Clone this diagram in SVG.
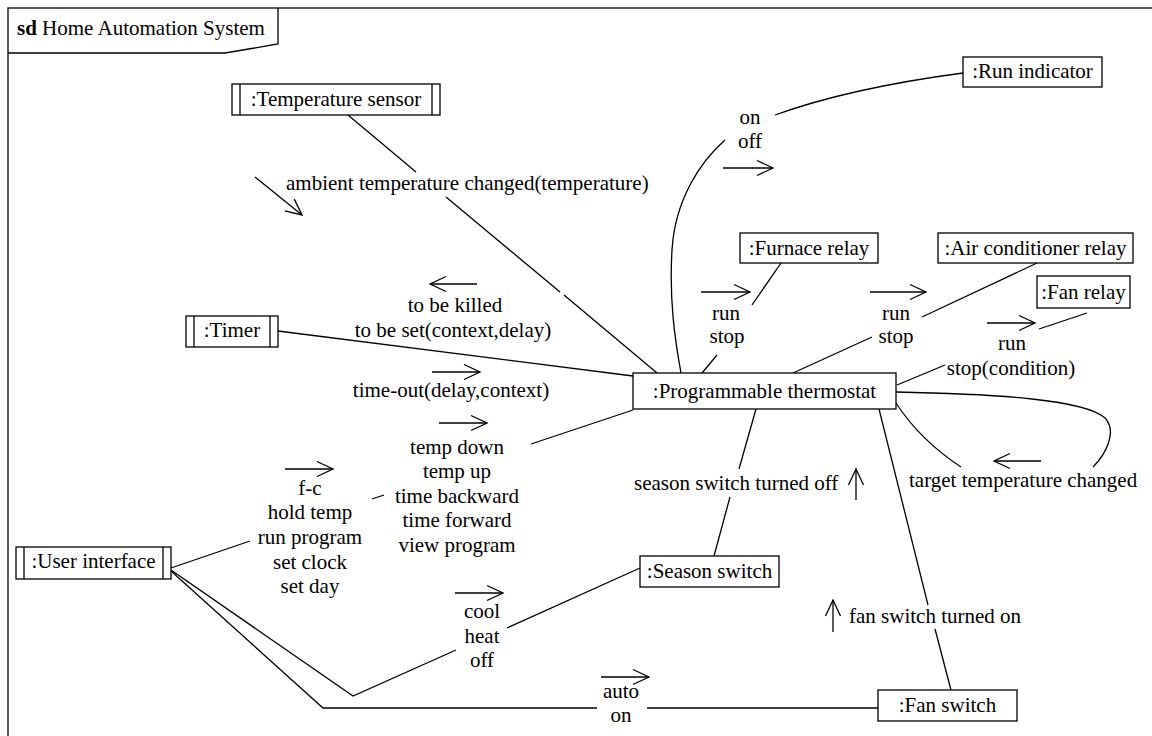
<svg xmlns="http://www.w3.org/2000/svg" xmlns:xlink="http://www.w3.org/1999/xlink" width="1152" height="736" viewBox="0 0 1152 736" font-size="21">
  <style>
    .box { fill: #fff; stroke: #000; stroke-width: 1.3; }
    .bar { stroke: #000; stroke-width: 1.3; }
    .ln { fill: none; stroke: #000; stroke-width: 1.3; }
  </style>
  <defs>
    <!-- open arrowhead, tip at the origin, pointing along +x -->
    <path id="head" d="M-16,-7.5 L0,0 L-16,7.5" fill="none" stroke="#000" stroke-width="1.3"/>
  </defs>

  <rect width="1152" height="736" fill="#fff"/>

  <!-- diagram frame, title tab -->
  <g id="frame">
    <rect x="8" y="8" width="1170" height="760" fill="none" stroke="#000" stroke-width="1.3"/>
    <path d="M8,53 L225,53 L278,44 L278,8" fill="none" stroke="#000" stroke-width="1.3"/>
    <text font-family="Liberation Serif" x="17" y="35"><tspan font-weight="bold">sd</tspan> Home Automation System</text>
  </g>

  <!-- links between lifelines -->
  <g id="connectors">
    <path class="ln" d="M348,115 L416,172 M446,197 L560,292 M564,295 L657,373"/>
    <path class="ln" d="M963,73 Q850,88 775,115"/>
    <path class="ln" d="M725,140 C700,162 675,200 672,250 S675,340 681,373"/>
    <path class="ln" d="M781,263 L752,305 M717,355 L702,373"/>
    <path class="ln" d="M1037,263 L922,317 M872,337 L793,373"/>
    <path class="ln" d="M1087,313 L1039,329 M945,365 L897,385"/>
    <path class="ln" d="M278,331 L633,376"/>
    <path class="ln" d="M896,392 C1000,394 1085,400 1105,418 C1118,432 1105,455 1093,467"/>
    <path class="ln" d="M961,467 Q920,440 896,403"/>
    <path class="ln" d="M756,409 L739,469 M730,497 L714,556"/>
    <path class="ln" d="M879,409 L928,605 M935,629 L951,690"/>
    <path class="ln" d="M171,568 L250,541 M372,499 L384,495 M531,444 L633,410"/>
    <path class="ln" d="M171,570 L353,696 L456,650 M507,628 L640,568"/>
    <path class="ln" d="M171,571 L323,708 L597,708 M647,708 L878,708"/>
  </g>

  <!-- message direction arrows -->
  <g id="messages">
    <path class="ln" d="M255,177 L302,215"/>
    <use xlink:href="#head" href="#head" transform="translate(302,215) rotate(38.96)"/>
    <path class="ln" d="M723,168 L773,168"/>
    <use xlink:href="#head" href="#head" transform="translate(773,168)"/>
    <path class="ln" d="M701,292 L750,292"/>
    <use xlink:href="#head" href="#head" transform="translate(750,292)"/>
    <path class="ln" d="M870,292 L926,292"/>
    <use xlink:href="#head" href="#head" transform="translate(926,292)"/>
    <path class="ln" d="M987,323 L1035,323"/>
    <use xlink:href="#head" href="#head" transform="translate(1035,323)"/>
    <path class="ln" d="M477,284 L430,284"/>
    <use xlink:href="#head" href="#head" transform="translate(430,284) rotate(180)"/>
    <path class="ln" d="M432,372 L480,372"/>
    <use xlink:href="#head" href="#head" transform="translate(480,372)"/>
    <path class="ln" d="M439,423 L487,423"/>
    <use xlink:href="#head" href="#head" transform="translate(487,423)"/>
    <path class="ln" d="M285,469 L333,469"/>
    <use xlink:href="#head" href="#head" transform="translate(333,469)"/>
    <path class="ln" d="M455,593 L503,593"/>
    <use xlink:href="#head" href="#head" transform="translate(503,593)"/>
    <path class="ln" d="M601,677 L649,677"/>
    <use xlink:href="#head" href="#head" transform="translate(649,677)"/>
    <path class="ln" d="M856,500 L856,469"/>
    <use xlink:href="#head" href="#head" transform="translate(856,469) rotate(-90)"/>
    <path class="ln" d="M833,632 L833,600"/>
    <use xlink:href="#head" href="#head" transform="translate(833,600) rotate(-90)"/>
    <path class="ln" d="M1041,461 L994,461"/>
    <use xlink:href="#head" href="#head" transform="translate(994,461) rotate(180)"/>
  </g>

  <!-- message labels -->
  <g id="labels" font-family="Liberation Serif">
    <text font-family="Liberation Serif" x="286" y="190">ambient temperature changed(temperature)</text>
    <text font-family="Liberation Serif" text-anchor="middle" x="750" y="124">on</text>
    <text font-family="Liberation Serif" text-anchor="middle" x="750" y="148">off</text>
    <text font-family="Liberation Serif" text-anchor="middle" x="726" y="320">run</text>
    <text font-family="Liberation Serif" text-anchor="middle" x="727" y="343">stop</text>
    <text font-family="Liberation Serif" text-anchor="middle" x="896" y="320">run</text>
    <text font-family="Liberation Serif" text-anchor="middle" x="896" y="343">stop</text>
    <text font-family="Liberation Serif" text-anchor="middle" x="1012" y="350">run</text>
    <text font-family="Liberation Serif" text-anchor="middle" x="1011" y="375">stop(condition)</text>
    <text font-family="Liberation Serif" text-anchor="middle" x="455" y="312">to be killed</text>
    <text font-family="Liberation Serif" text-anchor="middle" x="453" y="337">to be set(context,delay)</text>
    <text font-family="Liberation Serif" text-anchor="middle" x="451" y="397">time-out(delay,context)</text>
    <text font-family="Liberation Serif" text-anchor="middle" x="457" y="454">temp down</text>
    <text font-family="Liberation Serif" text-anchor="middle" x="457" y="478">temp up</text>
    <text font-family="Liberation Serif" text-anchor="middle" x="457" y="503">time backward</text>
    <text font-family="Liberation Serif" text-anchor="middle" x="457" y="527">time forward</text>
    <text font-family="Liberation Serif" text-anchor="middle" x="457" y="552">view program</text>
    <text font-family="Liberation Serif" text-anchor="middle" x="310" y="495">f-c</text>
    <text font-family="Liberation Serif" text-anchor="middle" x="310" y="519">hold temp</text>
    <text font-family="Liberation Serif" text-anchor="middle" x="310" y="544">run program</text>
    <text font-family="Liberation Serif" text-anchor="middle" x="310" y="569">set clock</text>
    <text font-family="Liberation Serif" text-anchor="middle" x="310" y="593">set day</text>
    <text font-family="Liberation Serif" text-anchor="middle" x="482" y="618">cool</text>
    <text font-family="Liberation Serif" text-anchor="middle" x="482" y="643">heat</text>
    <text font-family="Liberation Serif" text-anchor="middle" x="482" y="667">off</text>
    <text font-family="Liberation Serif" text-anchor="middle" x="621" y="698">auto</text>
    <text font-family="Liberation Serif" text-anchor="middle" x="621" y="722">on</text>
    <text font-family="Liberation Serif" x="634" y="490">season switch turned off</text>
    <text font-family="Liberation Serif" x="849" y="623">fan switch turned on</text>
    <text font-family="Liberation Serif" x="909" y="487">target temperature changed</text>
  </g>

  <!-- lifelines -->
  <g id="temperature-sensor">
    <rect class="box" x="232" y="84" width="208" height="31"/>
    <line class="bar" x1="240" y1="84" x2="240" y2="115"/>
    <line class="bar" x1="432" y1="84" x2="432" y2="115"/>
    <text font-family="Liberation Serif" text-anchor="middle" x="336" y="106">:Temperature sensor</text>
  </g>
  <g id="run-indicator">
    <rect class="box" x="963" y="57" width="139" height="30"/>
    <text font-family="Liberation Serif" text-anchor="middle" x="1032.5" y="78">:Run indicator</text>
  </g>
  <g id="furnace-relay">
    <rect class="box" x="740" y="233" width="138" height="30"/>
    <text font-family="Liberation Serif" text-anchor="middle" x="809" y="255">:Furnace relay</text>
  </g>
  <g id="air-conditioner-relay">
    <rect class="box" x="938" y="233" width="195" height="30"/>
    <text font-family="Liberation Serif" text-anchor="middle" x="1035.5" y="255">:Air conditioner relay</text>
  </g>
  <g id="fan-relay">
    <rect class="box" x="1037" y="276" width="93" height="32"/>
    <text font-family="Liberation Serif" text-anchor="middle" x="1083.5" y="299">:Fan relay</text>
  </g>
  <g id="timer">
    <rect class="box" x="186" y="316" width="92" height="31"/>
    <line class="bar" x1="194" y1="316" x2="194" y2="347"/>
    <line class="bar" x1="270" y1="316" x2="270" y2="347"/>
    <text font-family="Liberation Serif" text-anchor="middle" x="232" y="337">:Timer</text>
  </g>
  <g id="programmable-thermostat">
    <rect class="box" x="633" y="373" width="263" height="36"/>
    <text font-family="Liberation Serif" text-anchor="middle" x="764.5" y="398">:Programmable thermostat</text>
  </g>
  <g id="user-interface">
    <rect class="box" x="16" y="547" width="155" height="32"/>
    <line class="bar" x1="24" y1="547" x2="24" y2="579"/>
    <line class="bar" x1="163" y1="547" x2="163" y2="579"/>
    <text font-family="Liberation Serif" text-anchor="middle" x="93.5" y="568">:User interface</text>
  </g>
  <g id="season-switch">
    <rect class="box" x="640" y="556" width="139" height="31"/>
    <text font-family="Liberation Serif" text-anchor="middle" x="709.5" y="578">:Season switch</text>
  </g>
  <g id="fan-switch">
    <rect class="box" x="878" y="690" width="139" height="31"/>
    <text font-family="Liberation Serif" text-anchor="middle" x="947.5" y="712">:Fan switch</text>
  </g>
</svg>
